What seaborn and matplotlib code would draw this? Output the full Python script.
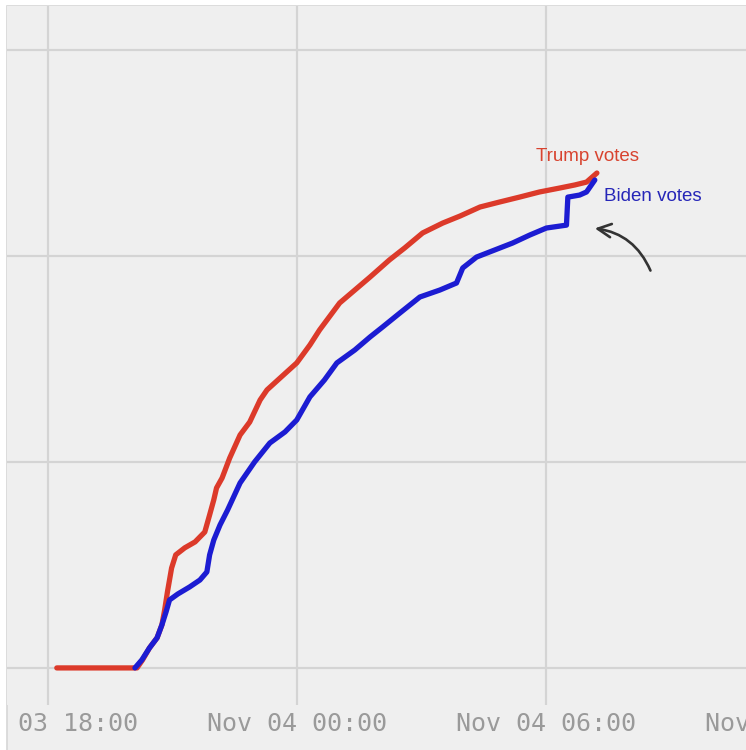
import pandas as pd
import matplotlib
matplotlib.use('Agg')
import matplotlib.pyplot as plt
import matplotlib.dates as mdates
from matplotlib.patches import Rectangle
from matplotlib.transforms import Bbox, TransformedBbox, IdentityTransform
import seaborn as sns

# Trump counted votes (millions)
trump_times = ['2020-11-03 18:13', '2020-11-03 20:09', '2020-11-03 20:17', '2020-11-03 20:27',
               '2020-11-03 20:38', '2020-11-03 20:45', '2020-11-03 20:49', '2020-11-03 20:53',
               '2020-11-03 20:59', '2020-11-03 21:05', '2020-11-03 21:18', '2020-11-03 21:33',
               '2020-11-03 21:47', '2020-11-03 21:54', '2020-11-03 22:00', '2020-11-03 22:04',
               '2020-11-03 22:12', '2020-11-03 22:23', '2020-11-03 22:38', '2020-11-03 22:52',
               '2020-11-03 23:07', '2020-11-03 23:17', '2020-11-03 23:36', '2020-11-04 00:00',
               '2020-11-04 00:19', '2020-11-04 00:33', '2020-11-04 01:02', '2020-11-04 01:24',
               '2020-11-04 01:46', '2020-11-04 02:14', '2020-11-04 02:36', '2020-11-04 03:02',
               '2020-11-04 03:31', '2020-11-04 03:56', '2020-11-04 04:25', '2020-11-04 04:53',
               '2020-11-04 05:22', '2020-11-04 05:51', '2020-11-04 06:20', '2020-11-04 06:42',
               '2020-11-04 06:59', '2020-11-04 07:14']
trump_votes = [0.0, 0.0, 0.039, 0.097, 0.146, 0.209, 0.282, 0.369, 0.485, 0.549, 0.583, 0.612,
               0.660, 0.743, 0.816, 0.874, 0.922, 1.019, 1.131, 1.194, 1.301, 1.350, 1.408, 1.481,
               1.568, 1.641, 1.772, 1.835, 1.898, 1.981, 2.039, 2.112, 2.160, 2.194, 2.238, 2.262,
               2.286, 2.311, 2.330, 2.345, 2.359, 2.403]

# Biden counted votes (millions)
biden_times = ['2020-11-03 20:06', '2020-11-03 20:16', '2020-11-03 20:27', '2020-11-03 20:38',
               '2020-11-03 20:45', '2020-11-03 20:51', '2020-11-03 20:56', '2020-11-03 21:08',
               '2020-11-03 21:25', '2020-11-03 21:40', '2020-11-03 21:50', '2020-11-03 21:54',
               '2020-11-03 22:00', '2020-11-03 22:09', '2020-11-03 22:20', '2020-11-03 22:38',
               '2020-11-03 22:59', '2020-11-03 23:21', '2020-11-03 23:43', '2020-11-04 00:00',
               '2020-11-04 00:19', '2020-11-04 00:40', '2020-11-04 00:58', '2020-11-04 01:24',
               '2020-11-04 01:46', '2020-11-04 02:04', '2020-11-04 02:29', '2020-11-04 02:58',
               '2020-11-04 03:27', '2020-11-04 03:51', '2020-11-04 04:00', '2020-11-04 04:20',
               '2020-11-04 04:46', '2020-11-04 05:12', '2020-11-04 05:37', '2020-11-04 06:01',
               '2020-11-04 06:30', '2020-11-04 06:32', '2020-11-04 06:49', '2020-11-04 06:59',
               '2020-11-04 07:11']
biden_votes = [0.0, 0.039, 0.097, 0.146, 0.209, 0.272, 0.330, 0.359, 0.393, 0.427, 0.466, 0.549,
               0.621, 0.694, 0.767, 0.898, 1.000, 1.092, 1.146, 1.204, 1.316, 1.398, 1.481, 1.544,
               1.607, 1.655, 1.723, 1.801, 1.835, 1.869, 1.942, 1.995, 2.029, 2.063, 2.102, 2.136,
               2.150, 2.286, 2.296, 2.311, 2.369]

candidates = ['Trump', 'Biden']
colors = {'Trump': '#dc3a2a', 'Biden': '#1c1cd2'}
label_texts = {'Trump': 'Trump votes', 'Biden': 'Biden votes'}

df = pd.concat([
    pd.DataFrame({'time': pd.to_datetime(trump_times), 'votes': trump_votes, 'candidate': 'Trump'}),
    pd.DataFrame({'time': pd.to_datetime(biden_times), 'votes': biden_votes, 'candidate': 'Biden'}),
])

bg = '#efefef'
sns.set_style('whitegrid', {'axes.facecolor': bg, 'grid.color': '#d4d4d4',
                            'axes.edgecolor': bg})

fig = plt.figure(figsize=(7.46, 7.5), dpi=100, facecolor='white')
# grey canvas with a thin white margin at top and left
fig.add_artist(Rectangle((7 / 746, -0.01), 1.0, 1.0 - 6 / 750 + 0.01, transform=fig.transFigure,
                         facecolor=bg, edgecolor='#d6d6d6', linewidth=1.2, zorder=-5))

# axes run past the right edge so the next tick label is cut off
ax = fig.add_axes([7 / 746, 45 / 750, 843 / 746, 699 / 750])
ax.set_facecolor(bg)

sns.lineplot(data=df, x='time', y='votes', hue='candidate', hue_order=candidates,
             palette=colors, linewidth=3.8, legend=False, ax=ax, zorder=3)

ax.set_xlim(pd.Timestamp('2020-11-03 17:01'), pd.Timestamp('2020-11-04 13:20'))
ax.set_ylim(-0.18, 3.214)
ax.set_yticks([0, 1, 2, 3])
ax.set_yticklabels([])
ax.xaxis.set_major_locator(mdates.HourLocator(byhour=[0, 6, 12, 18]))
ax.xaxis.set_major_formatter(mdates.DateFormatter('%b %d %H:%M'))
ax.tick_params(axis='both', length=0)
ax.tick_params(axis='x', pad=5, labelsize=18, labelcolor='#9a9a9a')
ax.grid(True, linewidth=1.6)
ax.set_xlabel('')
ax.set_ylabel('')
for s in ax.spines.values():
    s.set_visible(False)

ax.text(pd.Timestamp(trump_times[-1]) - pd.Timedelta(minutes=14), 2.44, label_texts['Trump'],
        color='#d8432f', fontsize=13.5, family='Liberation Sans', ha='center', va='bottom')
ax.text(pd.Timestamp(biden_times[-1]) + pd.Timedelta(minutes=13), 2.29, label_texts['Biden'],
        color='#2626b8', fontsize=13.5, family='Liberation Sans', ha='left', va='center')

ax.annotate('', xy=(pd.Timestamp('2020-11-04 07:07'), 2.136),
            xytext=(pd.Timestamp('2020-11-04 08:33'), 1.917),
            arrowprops=dict(arrowstyle='->', color='#333333', lw=1.9,
                            connectionstyle='arc3,rad=0.3', mutation_scale=24))

# the first tick label is cut off at the panel's left side
fig.canvas.draw()
clip = TransformedBbox(Bbox([[16, 0], [746, 750]]), IdentityTransform())
for lab in ax.get_xticklabels():
    lab.set_family('DejaVu Sans Mono')
    lab.set_clip_box(clip)
    lab.set_clip_on(True)

fig.savefig('out.png', dpi=100, facecolor='white')
